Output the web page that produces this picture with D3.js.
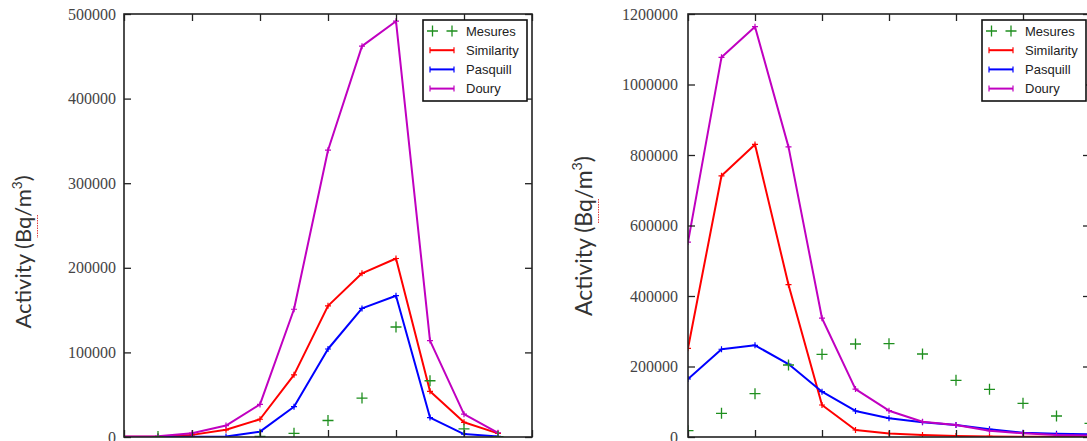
<!DOCTYPE html>
<html><head><meta charset="utf-8">
<script src="https://cdn.jsdelivr.net/npm/d3@7"></script>
<style>html,body{margin:0;padding:0;background:#fff;}svg{display:block;}</style>
</head><body>
<svg id="chart" width="1087" height="441"></svg>
<script>
// ---- data (left panel) ----
const idxLeft = [0,1,2,3,4,5,6,7,8,9,10,11];
const mesuresLeft    = [null, 500, null, null, 800, 4400, 19500, 46000, 130000, 66500, 9500, 500];
const similarityLeft = [300, 600, 2500, 8500, 21000, 73500, 155000, 193500, 211000, 54000, 17400, 4300];
const pasquillLeft   = [0, 0, 300, 500, 6300, 35800, 104000, 152000, 167000, 23000, 3500, 700];
const douryLeft      = [500, 1000, 4500, 13500, 38500, 151000, 339000, 462000, 491500, 114000, 27000, 5000];
const yTicksLeft = [0, 100000, 200000, 300000, 400000, 500000];

// ---- data (right panel) ----
const idxRight = [0,1,2,3,4,5,6,7,8,9,10,11,12];
const mesuresRight    = [17900, 67200, 122900, 204300, 234600, 263800, 264700, 235500, 160800, 135300, 95600, 59600, 38900];
const similarityRight = [251600, 741000, 830000, 432000, 90800, 19900, 10000, 5500, 3000, 1500, 800, 500, 300];
const pasquillRight   = [164500, 249000, 260000, 207000, 128600, 73800, 53000, 41600, 34000, 21800, 12200, 9400, 8000];
const douryRight      = [553000, 1077000, 1164000, 823000, 337000, 136000, 74600, 43400, 34000, 17900, 10500, 6000, 4000];
const yTicksRight = [0, 200000, 400000, 600000, 800000, 1000000, 1200000];

const xTicks = [0, 2, 4, 6, 8, 10, 12];
const legendLabels = ["Mesures", "Similarity", "Pasquill", "Doury"];
const colors = {Mesures:"#1f8f1f", Similarity:"#ff0000", Pasquill:"#0000ff", Doury:"#c000c0"};

const svg = d3.select("#chart");

function panel(cfg){
  const g = svg.append("g");
  const x = d3.scaleLinear().domain([0,12]).range([cfg.x0, cfg.x1]);
  const y = d3.scaleLinear().domain([0, cfg.ymax]).range([cfg.y1, cfg.y0]);
  const clipId = "clip" + cfg.id;
  svg.append("clipPath").attr("id", clipId).append("rect")
    .attr("x", cfg.x0).attr("y", cfg.y0).attr("width", cfg.x1-cfg.x0).attr("height", cfg.y1-cfg.y0);
  const plot = g.append("g").attr("clip-path", `url(#${clipId})`);

  const series = [
    {name:"Similarity", vals:cfg.similarity},
    {name:"Pasquill", vals:cfg.pasquill},
    {name:"Doury", vals:cfg.doury}
  ];
  const line = d3.line().defined(d => d[1] != null).x(d => x(d[0])).y(d => y(d[1]));
  series.forEach(s => {
    const pts = cfg.idx.map((i,k) => [i, s.vals[k]]);
    plot.append("path").datum(pts).attr("d", line)
      .attr("fill","none").attr("stroke", colors[s.name]).attr("stroke-width", 2)
      .attr("stroke-linejoin","round");
    plot.selectAll(null).data(pts.filter(d=>d[1]!=null)).enter().append("path")
      .attr("d", d => `M${x(d[0])-3},${y(d[1])}h6M${x(d[0])},${y(d[1])-3}v6`)
      .attr("stroke", colors[s.name]).attr("stroke-width", 1.2);
  });
  const mpts = cfg.idx.map((i,k) => [i, cfg.mesures[k]]).filter(d => d[1] != null);
  plot.selectAll(null).data(mpts).enter().append("path")
    .attr("d", d => `M${x(d[0])-5.5},${y(d[1])}h11M${x(d[0])},${y(d[1])-5.5}v11`)
    .attr("stroke", colors.Mesures).attr("stroke-width", 1.3);

  // axes (inward ticks on all four sides)
  const tickLen = 7;
  const axL = d3.axisRight(y).tickValues(cfg.yTicks).tickSize(tickLen).tickFormat("");
  const axR = d3.axisLeft(y).tickValues(cfg.yTicks).tickSize(tickLen).tickFormat("");
  const axT = d3.axisBottom(x).tickValues(xTicks).tickSize(tickLen).tickFormat("");
  const axB = d3.axisTop(x).tickValues(xTicks).tickSize(tickLen).tickFormat("");
  [[axL,`translate(${cfg.x0},0)`],[axR,`translate(${cfg.x1},0)`],[axT,`translate(0,${cfg.y0})`],[axB,`translate(0,${cfg.y1})`]]
    .forEach(([ax,tr]) => {
      const a = g.append("g").attr("transform", tr).call(ax);
      a.select(".domain").remove();
      a.selectAll("line").attr("stroke","#222").attr("stroke-width",1.3);
    });
  g.append("rect").attr("x", cfg.x0).attr("y", cfg.y0)
    .attr("width", cfg.x1-cfg.x0).attr("height", cfg.y1-cfg.y0)
    .attr("fill","none").attr("stroke","#222").attr("stroke-width",1.6);

  // y tick labels
  g.selectAll(null).data(cfg.yTicks).enter().append("text")
    .attr("x", cfg.x0 - cfg.labelGap).attr("y", d => y(d)).attr("dy","0.35em")
    .attr("text-anchor","end").attr("font-family","'Liberation Serif', serif")
    .attr("font-size", 16).attr("fill","#444").text(d => d3.format("d")(d));

  // y title
  const t = g.append("text").attr("transform", `translate(${cfg.titleX},${cfg.titleY}) rotate(-90)`)
    .attr("text-anchor","middle").attr("font-family","Lato, sans-serif")
    .attr("font-size", cfg.titleSize).attr("fill","#333");
  t.append("tspan").text("Activity (Bq/m");
  t.append("tspan").attr("font-size", cfg.titleSize*0.62).attr("dy", -cfg.titleSize*0.42).text("3");
  t.append("tspan").attr("dy", cfg.titleSize*0.42).text(")");
  // spell-check underline under "Bq"
  g.append("line").attr("x1", cfg.titleX+6.5).attr("x2", cfg.titleX+6.5)
    .attr("y1", cfg.squigY0).attr("y2", cfg.squigY1)
    .attr("stroke","#e04040").attr("stroke-width",1).attr("stroke-dasharray","1.5,1");

  // legend
  const lx = cfg.x1 - cfg.legRight - 104, ly = 20;
  const lg = g.append("g");
  lg.append("rect").attr("x", lx).attr("y", ly).attr("width", 104).attr("height", 81)
    .attr("fill","#fff").attr("stroke","#111").attr("stroke-width",1.6);
  legendLabels.forEach((name,i) => {
    const cy = ly + 11 + i*19.2;
    if (name === "Mesures") {
      [lx+9.5, lx+29].forEach(cx => lg.append("path")
        .attr("d", `M${cx-5.5},${cy}h11M${cx},${cy-5.5}v11`)
        .attr("stroke", colors.Mesures).attr("stroke-width",1.3));
    } else {
      lg.append("line").attr("x1", lx+7).attr("x2", lx+31).attr("y1", cy).attr("y2", cy)
        .attr("stroke", colors[name]).attr("stroke-width",2);
      [lx+7, lx+31].forEach(cx => lg.append("path")
        .attr("d", `M${cx},${cy-3}v6`).attr("stroke", colors[name]).attr("stroke-width",1.2));
    }
    lg.append("text").attr("x", lx+43).attr("y", cy).attr("dy","0.35em")
      .attr("font-family","'Liberation Sans', Arial, sans-serif").attr("font-size",13)
      .attr("fill","#222").text(name);
  });
}

panel({id:"L", x0:124, x1:532, y0:14, y1:437, ymax:500000, idx:idxLeft,
  mesures:mesuresLeft, similarity:similarityLeft, pasquill:pasquillLeft, doury:douryLeft,
  yTicks:yTicksLeft, labelGap:8, titleX:31, titleY:252, titleSize:22, squigY0:215, squigY1:238, legRight:5});
panel({id:"R", x0:688, x1:1090, y0:14, y1:437, ymax:1200000, idx:idxRight,
  mesures:mesuresRight, similarity:similarityRight, pasquill:pasquillRight, doury:douryRight,
  yTicks:yTicksRight, labelGap:10, titleX:592, titleY:236, titleSize:23, squigY0:199, squigY1:224, legRight:4});
</script>
</body></html>
